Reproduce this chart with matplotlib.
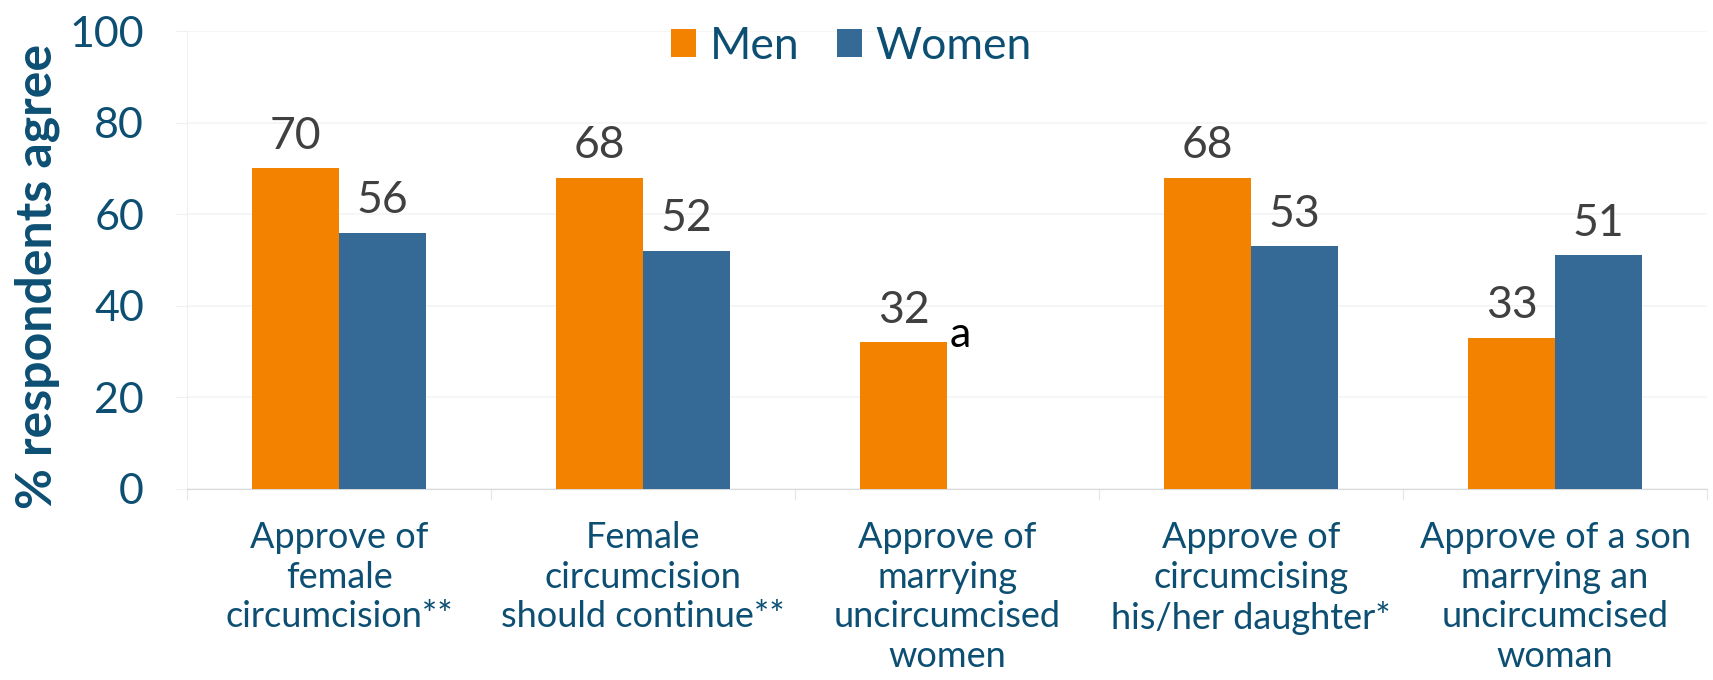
import numpy as np
from matplotlib import pyplot as plt

plt.rcParams['font.family'] = ['Lato', 'DejaVu Sans']

categories = ['Approve of\nfemale\ncircumcision**',
              'Female\ncircumcision\nshould continue**',
              'Approve of\nmarrying\nuncircumcised\nwomen',
              'Approve of\ncircumcising\nhis/her daughter*',
              'Approve of a son\nmarrying an\nuncircumcised\nwoman']
men = [70, 68, 32, 68, 33]
women = [56, 52, np.nan, 53, 51]
notes = {2: 'a'}   # no women figure for this item

orange = '#F28200'
blue = '#356A97'
text_blue = '#0D4F73'
grey_txt = '#404040'

fig = plt.figure(figsize=(17.13, 6.8), dpi=100)
ax = fig.add_axes([0.1092, 0.2809, 0.8873, 0.6735])

x = np.arange(len(categories))
w = 0.285
b1 = ax.bar(x - w/2, men, w, color=orange, label='Men', zorder=3)
b2 = ax.bar(x + w/2, women, w, color=blue, label='Women', zorder=3)

for rect, v in zip(b1, men):
    ax.annotate(f'{v:.0f}', (rect.get_x() + rect.get_width()/2, v),
                xytext=(0, 14), textcoords='offset points',
                ha='center', va='baseline', fontsize=32, color=grey_txt)
for rect, v in zip(b2, women):
    if np.isnan(v):
        continue
    ax.annotate(f'{v:.0f}', (rect.get_x() + rect.get_width()/2, v),
                xytext=(0, 14), textcoords='offset points',
                ha='center', va='baseline', fontsize=32, color=grey_txt)
for i, s in notes.items():
    ax.annotate(s, (x[i], men[i]), xytext=(2, -3), textcoords='offset points',
                ha='left', va='baseline', fontsize=31, color='black')

ax.set_ylim(0, 100)
ax.set_xlim(-0.5, len(categories) - 0.5)
ax.set_yticks(np.arange(0, 101, 20))
ax.yaxis.grid(True, color='#f5f5f5', lw=1.2, zorder=0)
ax.tick_params(axis='y', labelsize=31, labelcolor=text_blue, length=9,
               color='#f0f0f0', pad=22)

ax.set_xticks(np.arange(-0.5, len(categories)), [''] * (len(categories) + 1))
ax.tick_params(axis='x', which='major', length=8, color='#e6e6e6')
ax.set_xticks(x, minor=True)
ax.set_xticklabels(categories, minor=True, fontsize=26, color=text_blue,
                   linespacing=1.25)
ax.tick_params(axis='x', which='minor', length=0, pad=23)

for sp in ['top', 'right']:
    ax.spines[sp].set_visible(False)
ax.spines['left'].set_color('#f0f0f0')
ax.spines['bottom'].set_color('#d9d9d9')

fig.text(0.022, 0.593, '% respondents agree', rotation=90, ha='center',
         va='center', fontsize=36, fontweight='bold', color=text_blue)

leg = fig.legend(loc='center', bbox_to_anchor=(0.497, 0.932), ncol=2,
                 frameon=False, fontsize=32, handlelength=0.57,
                 handleheight=0.57, handletextpad=0.3, columnspacing=0.85)
for t in leg.get_texts():
    t.set_color(text_blue)

plt.savefig('out.png', dpi=100)
